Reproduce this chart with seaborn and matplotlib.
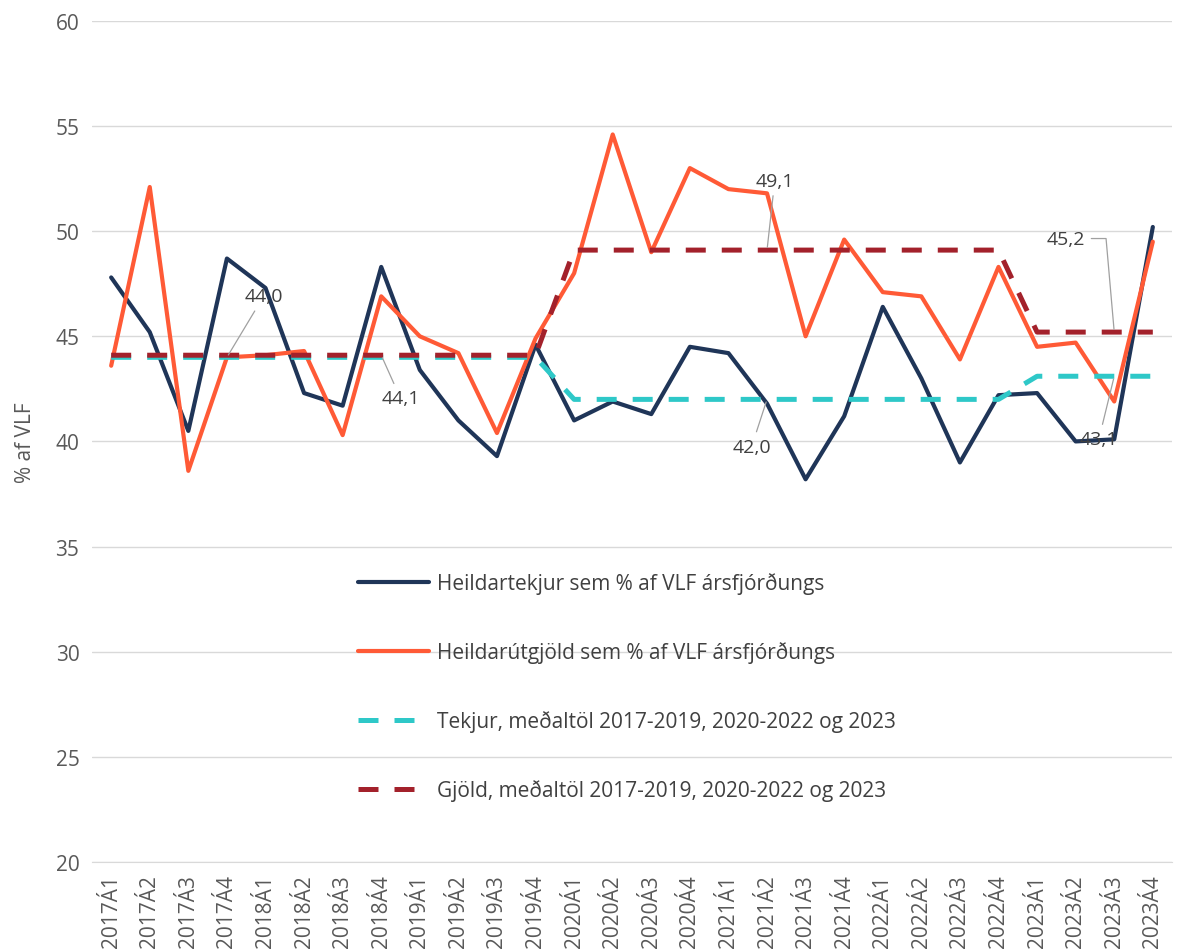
import numpy as np
import pandas as pd
import seaborn as sns
import matplotlib
matplotlib.use("Agg")
import matplotlib.pyplot as plt

sns.set_style("white")
plt.rcParams['font.family'] = ['Open Sans', 'DejaVu Sans']

# ---------------------------------------------------------------------------
# data
quarters = [f"{y}Á{q}" for y in range(2017, 2024) for q in range(1, 5)]

tekjur = [47.8, 45.2, 40.5, 48.7, 47.3, 42.3, 41.7, 48.3, 43.4, 41.0, 39.3, 44.6,
          41.0, 41.9, 41.3, 44.5, 44.2, 41.8, 38.2, 41.2, 46.4, 43.0, 39.0, 42.2,
          42.3, 40.0, 40.1, 50.2]
gjold = [43.6, 52.1, 38.6, 44.0, 44.1, 44.3, 40.3, 46.9, 45.0, 44.2, 40.4, 44.9,
         48.0, 54.6, 49.0, 53.0, 52.0, 51.8, 45.0, 49.6, 47.1, 46.9, 43.9, 48.3,
         44.5, 44.7, 41.9, 49.5]
tekjur_avg = [44.0] * 12 + [42.0] * 12 + [43.1] * 4
gjold_avg = [44.1] * 12 + [49.1] * 12 + [45.2] * 4

labels = {
    "tekjur": "Heildartekjur sem % af VLF ársfjórðungs",
    "gjold": "Heildarútgjöld sem % af VLF ársfjórðungs",
    "tekjur_avg": "Tekjur, meðaltöl 2017-2019, 2020-2022 og 2023",
    "gjold_avg": "Gjöld, meðaltöl 2017-2019, 2020-2022 og 2023",
}
colors = {"tekjur": "#1f3558", "gjold": "#ff5a36",
          "tekjur_avg": "#2ec8c8", "gjold_avg": "#a3212b"}

df = pd.DataFrame({"i": np.arange(len(quarters)), "tekjur": tekjur, "gjold": gjold,
                   "tekjur_avg": tekjur_avg, "gjold_avg": gjold_avg})

fig, ax = plt.subplots(figsize=(11.78, 9.53), dpi=100)
fig.subplots_adjust(left=0.078, right=0.995, top=0.977, bottom=0.0945)

for key in ["tekjur", "gjold"]:
    sns.lineplot(data=df, x="i", y=key, ax=ax, color=colors[key], lw=3.0,
                 label=labels[key])
for key in ["tekjur_avg", "gjold_avg"]:
    sns.lineplot(data=df, x="i", y=key, ax=ax, color=colors[key], lw=3.6,
                 label=labels[key], dashes=(4, 3.2))

# data labels for the averages
ann = dict(color="#404040", fontsize=14, ha="center", va="center",
           arrowprops=dict(arrowstyle="-", color="#a0a0a0", lw=0.9))
ax.annotate("44,0", xy=(3, 44.0), xytext=(3.95, 46.9), **ann)
ax.annotate("44,1", xy=(7, 44.1), xytext=(7.5, 42.05), **ann)
ax.annotate("49,1", xy=(17, 49.1), xytext=(17.2, 52.4), **ann)
ax.annotate("42,0", xy=(17, 42.0), xytext=(16.6, 39.75), **ann)
ann45 = dict(ann)
ann45["arrowprops"] = dict(arrowstyle="-", color="#a0a0a0", lw=0.9,
                           connectionstyle="angle,angleA=0,angleB=95,rad=0")
ax.annotate("45,2", xy=(26, 45.2), xytext=(24.75, 49.65), **ann45)
ax.annotate("43,1", xy=(26, 43.1), xytext=(25.6, 40.1), **ann)

ax.set_xlim(-0.5, 27.5)
ax.set_ylim(20, 60)
ax.set_yticks(range(20, 61, 5))
ax.set_xticks(df["i"])
ax.set_xticklabels(quarters, rotation=90)
ax.tick_params(axis="both", length=0, colors="#595959", labelsize=15, pad=9)
ax.set_xlabel("")
ax.set_ylabel("% af VLF", color="#595959", fontsize=15, labelpad=14)
ax.grid(axis="y", color="#d9d9d9", lw=1.0)
ax.set_axisbelow(True)
sns.despine(ax=ax, left=True, bottom=True)
ax.spines["bottom"].set_visible(True)
ax.spines["bottom"].set_color("#d9d9d9")

leg = ax.legend(loc="upper left", bbox_to_anchor=(0.2365, 0.3565), frameon=False,
                fontsize=15, labelspacing=2.25, handlelength=3.4,
                handletextpad=0.4, borderpad=0)
for t in leg.get_texts():
    t.set_color("#404040")

fig.savefig("out.png", dpi=100)
